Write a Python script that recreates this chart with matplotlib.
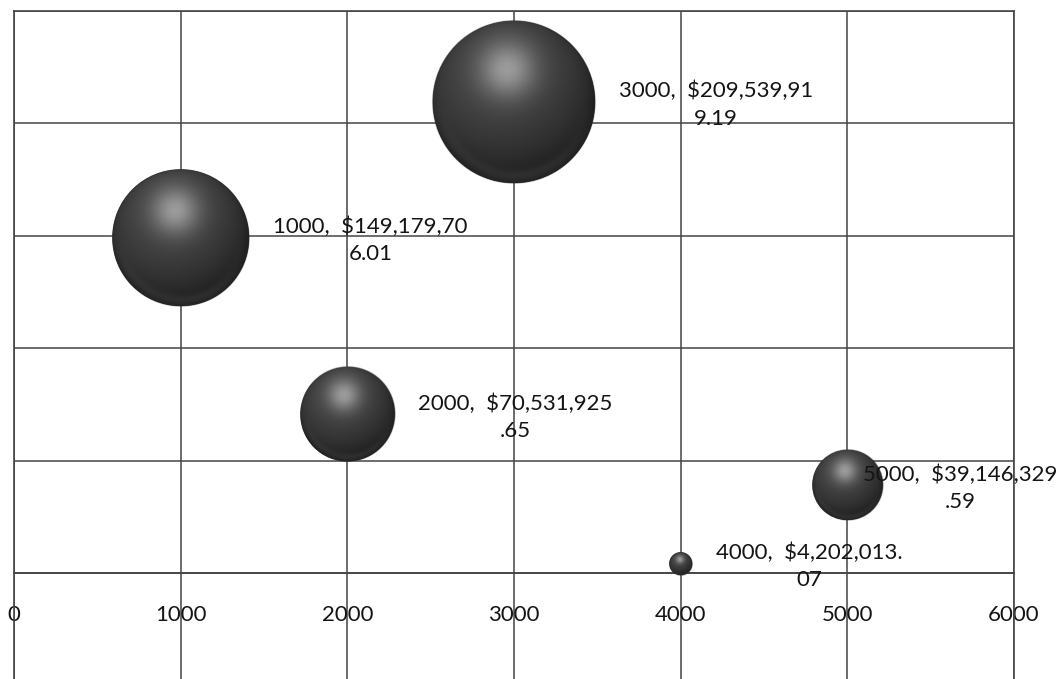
import numpy as np
import matplotlib
matplotlib.use("Agg")
import matplotlib.pyplot as plt

# ---- data ----
x_values = [1000, 2000, 3000, 4000, 5000]
amounts = [149179706.01, 70531925.65, 209539919.19, 4202013.07, 39146329.59]
x_ticks = [0, 1000, 2000, 3000, 4000, 5000, 6000]
y_grid = [0, 50e6, 100e6, 150e6, 200e6, 250e6]

plt.rcParams['font.family'] = ['Lato', 'DejaVu Sans']

W, H = 1062, 679
fig = plt.figure(figsize=(W / 100, H / 100), dpi=100)
fig.patch.set_facecolor('white')
ax = fig.add_axes([14 / W, 0, 1000 / W, 668 / H])
ax.set_xlim(0, 6000)
ax.set_ylim(-47.15e6, 250e6)
ax.set_xticks(x_ticks)
ax.set_yticks(y_grid)
ax.set_yticklabels([])
ax.tick_params(axis='y', length=0)
ax.tick_params(axis='x', length=0, pad=23, labelsize=16, labelcolor='#141414')
ax.grid(True, color='#444444', lw=1.1)
ax.set_axisbelow(True)
for s in ['left', 'right', 'top', 'bottom']:
    ax.spines[s].set_color('#444444')
    ax.spines[s].set_linewidth(1.2)
ax.spines['bottom'].set_position(('data', 0))

# ---- bubbles ----
k = 5.6  # px per sqrt(million)
amt = np.array(amounts)
radii = k * np.sqrt(amt / 1e6)
ax.scatter(x_values, amounts, s=(1.44 * radii) ** 2, color='#2a2a2a',
           linewidths=0, zorder=3)

inv = ax.transData.inverted()
L = np.array([-0.2, 0.5, 0.85])
L = L / np.linalg.norm(L)
for xv, yv, R in zip(x_values, amounts, radii):
    cx, cy = ax.transData.transform((xv, yv))
    ss = 3
    half = R + 1.5
    n = int(np.ceil(2 * half * ss))
    u = (np.arange(n) + 0.5) / ss - half
    v = half - (np.arange(n) + 0.5) / ss
    U, V = np.meshgrid(u, v)
    nx, ny = U / R, V / R
    d = np.sqrt(nx ** 2 + ny ** 2)
    alpha = np.clip((1 - d) * R + 0.5, 0, 1)
    nz = np.sqrt(np.clip(1 - d ** 2, 0, 1))
    diff = np.clip(nx * L[0] + ny * L[1] + nz * L[2], 0, 1)
    g = np.exp(-((nx + 0.08) ** 2 + (ny - 0.40) ** 2) / (2 * 0.24 ** 2))
    I = 0.13 + 0.15 * diff + 0.33 * g
    I += 0.06 * np.exp(-((d - 0.9) / 0.07) ** 2) * np.clip(-ny, 0, 1)
    I = np.clip(I, 0, 1)
    img = np.zeros((n, n, 4))
    img[..., 0] = I
    img[..., 1] = I
    img[..., 2] = I
    img[..., 3] = alpha
    x0, y0 = inv.transform((cx - half, cy - half))
    x1, y1 = inv.transform((cx - half + n / ss, cy - half + n / ss))
    ax.imshow(img, extent=(x0, x1, y0, y1), origin='upper', aspect='auto',
              zorder=4, interpolation='antialiased')

ax.set_xlim(0, 6000)
ax.set_ylim(-47.15e6, 250e6)

# ---- labels ----
anns = []
for xv, yv, R in zip(x_values, amounts, radii):
    full = f"{xv},  ${yv:,.2f}"
    label = full[:18] + "\n" + full[18:]
    off = (R + 24) * 0.72
    a = ax.annotate(label, xy=(xv, yv), xytext=(off, -3 * 0.72),
                    textcoords='offset points', ha='left', va='center',
                    multialignment='center', fontsize=16, linespacing=1.45,
                    color='#141414', zorder=6)
    anns.append((a, off))

fig.canvas.draw()
r = fig.canvas.get_renderer()
for a, off in anns:
    bb = a.get_window_extent(r)
    if bb.x1 > W - 5:
        a.set_position((off - (bb.x1 - (W - 5)) * 0.72, -3 * 0.72))

fig.savefig('out.png', dpi=100, facecolor='white')
